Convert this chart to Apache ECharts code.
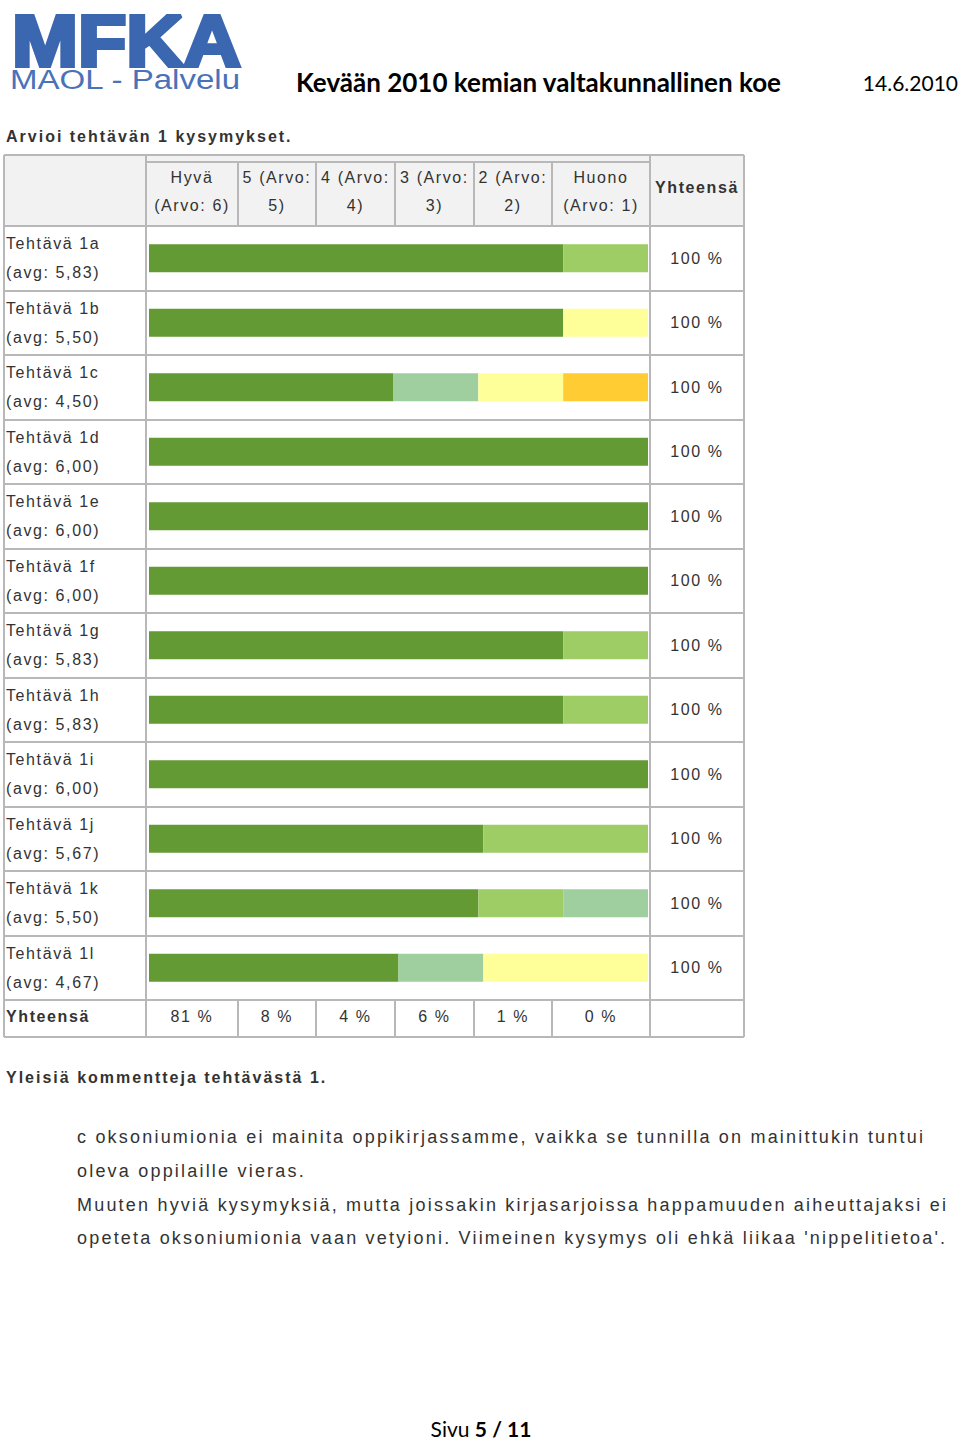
<!DOCTYPE html>
<html><head><meta charset="utf-8">
<script src="https://cdn.jsdelivr.net/npm/echarts@6/dist/echarts.min.js"></script>
<style>
html,body{margin:0;padding:0;background:#fff;}
#c{width:960px;height:1442px;}
#c text[style*="Arial"]{letter-spacing:1.6px;}
#c text[style*="Verdana"]{letter-spacing:2px;}
#c text[style*="Helvetica"]{letter-spacing:2.2px;}
</style></head><body><div id="c"></div>
<script>
// ---- data ----
const categories = ['Tehtävä 1a','Tehtävä 1b','Tehtävä 1c','Tehtävä 1d','Tehtävä 1e','Tehtävä 1f','Tehtävä 1g','Tehtävä 1h','Tehtävä 1i','Tehtävä 1j','Tehtävä 1k','Tehtävä 1l'];
const averages = ['5,83','5,50','4,50','6,00','6,00','6,00','5,83','5,83','6,00','5,67','5,50','4,67'];
const seriesNames = ['Hyvä (Arvo: 6)','5 (Arvo: 5)','4 (Arvo: 4)','3 (Arvo: 3)','2 (Arvo: 2)','Huono (Arvo: 1)'];
const headerLabels = [['Hyvä','(Arvo: 6)'],['5 (Arvo:','5)'],['4 (Arvo:','4)'],['3 (Arvo:','3)'],['2 (Arvo:','2)'],['Huono','(Arvo: 1)']];
const arvo6 = [83, 83, 49, 100, 100, 100, 83, 83, 100, 67, 66, 50];
const arvo5 = [17, 0, 0, 0, 0, 0, 17, 17, 0, 33, 17, 0];
const arvo4 = [0, 0, 17, 0, 0, 0, 0, 0, 0, 0, 17, 17];
const arvo3 = [0, 17, 17, 0, 0, 0, 0, 0, 0, 0, 0, 33];
const arvo2 = [0, 0, 17, 0, 0, 0, 0, 0, 0, 0, 0, 0];
const arvo1 = [0, 0, 0, 0, 0, 0, 0, 0, 0, 0, 0, 0];
const rowTotals = ['100 %','100 %','100 %','100 %','100 %','100 %','100 %','100 %','100 %','100 %','100 %','100 %'];
const columnTotals = ['81 %','8 %','4 %','6 %','1 %','0 %'];
const commentLines = [
  "c oksoniumionia ei mainita oppikirjassamme, vaikka se tunnilla on mainittukin tuntui",
  "oleva oppilaille vieras.",
  "Muuten hyviä kysymyksiä, mutta joissakin kirjasarjoissa happamuuden aiheuttajaksi ei",
  "opeteta oksoniumionia vaan vetyioni. Viimeinen kysymys oli ehkä liikaa 'nippelitietoa'."
];

// ---- styling / layout ----
const colors = ['#649a34','#9dcd64','#9fcf9f','#ffff9a','#ffcc33','#ff9966'];
const seriesData = [arvo6, arvo5, arvo4, arvo3, arvo2, arvo1];
const F_TAB = 'Liberation Sans, Arial';
const F_TITLE = 'Liberation Sans, Verdana';
const F_BODY = 'Liberation Sans, Helvetica';
const F_HEAD = 'Lato';
const TXT = '#333333';
const LINE = '#b8b8b8';

const T = {L:4, R:744, top:155, innerTop:162, headBot:226, bodyBot:1000, bot:1037,
  cols:[146,238,316,395,474,552,650]};
const rowH = (T.bodyBot - T.headBot) / categories.length;

const g = [];
g.push({type:'rect', shape:{x:T.L, y:T.top, width:T.R-T.L, height:T.headBot-T.top}, style:{fill:'#f2f2f2'}, silent:true});
function hl(y,x1,x2){ g.push({type:'line', shape:{x1:x1,y1:y,x2:x2,y2:y}, style:{stroke:LINE, lineWidth:2}, silent:true}); }
function vl(x,y1,y2){ g.push({type:'line', shape:{x1:x,y1:y1,x2:x,y2:y2}, style:{stroke:LINE, lineWidth:2}, silent:true}); }
hl(T.top, T.L, T.R);
hl(T.innerTop, T.cols[0], T.cols[6]);
hl(T.headBot, T.L, T.R);
for (let i=1;i<=categories.length;i++) hl(Math.round(T.headBot + i*rowH), T.L, T.R);
hl(T.bot, T.L, T.R);
vl(T.L, T.top, T.bot); vl(T.R, T.top, T.bot);
vl(T.cols[0], T.top, T.bot); vl(T.cols[6], T.top, T.bot);
for (let i=1;i<6;i++){ vl(T.cols[i], T.innerTop, T.headBot); vl(T.cols[i], T.bodyBot, T.bot); }

headerLabels.forEach((h,i)=>{
  const cx = (T.cols[i]+T.cols[i+1])/2;
  g.push({type:'text', x:cx, y:177, style:{text:h[0], font:'16px '+F_TAB, fill:TXT, textAlign:'center', textVerticalAlign:'middle'}, silent:true});
  g.push({type:'text', x:cx, y:205, style:{text:h[1], font:'16px '+F_TAB, fill:TXT, textAlign:'center', textVerticalAlign:'middle'}, silent:true});
});
g.push({type:'text', x:(T.cols[6]+T.R)/2, y:187, style:{text:'Yhteensä', font:'bold 16px '+F_TAB, fill:TXT, textAlign:'center', textVerticalAlign:'middle'}, silent:true});
g.push({type:'text', x:6, y:1016, style:{text:'Yhteensä', font:'bold 16px '+F_TAB, fill:TXT, textAlign:'left', textVerticalAlign:'middle'}, silent:true});
columnTotals.forEach((t,i)=>{
  g.push({type:'text', x:(T.cols[i]+T.cols[i+1])/2, y:1016, style:{text:t, font:'16px '+F_TAB, fill:TXT, textAlign:'center', textVerticalAlign:'middle'}, silent:true});
});
g.push({type:'text', x:6, y:136, style:{text:'Arvioi tehtävän 1 kysymykset.', font:'bold 16px '+F_TITLE, fill:TXT, textAlign:'left', textVerticalAlign:'middle'}, silent:true});
g.push({type:'text', x:6, y:1077, style:{text:'Yleisiä kommentteja tehtävästä 1.', font:'bold 16px '+F_TITLE, fill:TXT, textAlign:'left', textVerticalAlign:'middle'}, silent:true});
const commentY = [1137,1171,1205,1238];
commentLines.forEach((t,i)=>{
  g.push({type:'text', x:77, y:commentY[i], style:{text:t, font:'18px '+F_BODY, fill:TXT, textAlign:'left', textVerticalAlign:'middle'}, silent:true});
});
g.push({type:'text', x:296, y:82, style:{text:'Kevään 2010 kemian valtakunnallinen koe', font:'bold 26px '+F_HEAD, fill:'#000', textAlign:'left', textVerticalAlign:'middle'}, silent:true});
g.push({type:'text', x:958, y:82, style:{text:'14.6.2010', font:'21px '+F_HEAD, fill:'#000', textAlign:'right', textVerticalAlign:'middle'}, silent:true});
// logo
g.push({type:'text', x:12, y:41, scaleX:1.1, style:{text:'MFKA', font:'bold 72px Liberation Sans', fill:'#3b66b0', stroke:'#3b66b0', lineWidth:4, textAlign:'left', textVerticalAlign:'middle'}, silent:true});
g.push({type:'text', x:10, y:79, scaleX:1.18, style:{text:'MAOL - Palvelu', font:'28px Liberation Sans', fill:'#4a72b8', textAlign:'left', textVerticalAlign:'middle'}, silent:true});
g.push({type:'text', x:481, y:1428, style:{text:'{n|Sivu }{b|5 / 11}', rich:{n:{font:'21px '+F_HEAD, fill:'#000'}, b:{font:'bold 21px '+F_HEAD, fill:'#000'}}, textAlign:'center', textVerticalAlign:'middle'}, silent:true});

const chart = echarts.init(document.getElementById('c'), null, {renderer:'svg'});
chart.setOption({
  animation:false,
  backgroundColor:'#fff',
  grid:{left:149, right:960-648, top:T.headBot, bottom:1442-T.bodyBot, containLabel:false},
  xAxis:{type:'value', min:0, max:100, show:false},
  yAxis:[
    {type:'category', data:categories, inverse:true,
     axisLine:{show:false}, axisTick:{show:false}, splitLine:{show:false},
     axisLabel:{interval:0, showMinLabel:true, showMaxLabel:true, hideOverlap:false,
       margin:143, align:'left', fontFamily:F_TAB, fontSize:16, color:TXT, lineHeight:29, padding:[0,0,5,0],
       formatter:(v,i)=> v + '\n(avg: ' + averages[i] + ')'}},
    {type:'category', data:categories, inverse:true, position:'right',
     axisLine:{show:false}, axisTick:{show:false}, splitLine:{show:false},
     axisLabel:{interval:0, showMinLabel:true, showMaxLabel:true,
       margin:49, align:'center', fontFamily:F_TAB, fontSize:16, color:TXT, padding:[0,0,8,0],
       formatter:(v,i)=> rowTotals[i]}}
  ],
  series: seriesNames.map((n,k)=>({
    name:n, type:'bar', stack:'all', yAxisIndex:0, barWidth:28,
    data:seriesData[k], itemStyle:{color:colors[k]}, emphasis:{disabled:true}, silent:true
  })),
  graphic:{elements:g}
});
</script></body></html>
